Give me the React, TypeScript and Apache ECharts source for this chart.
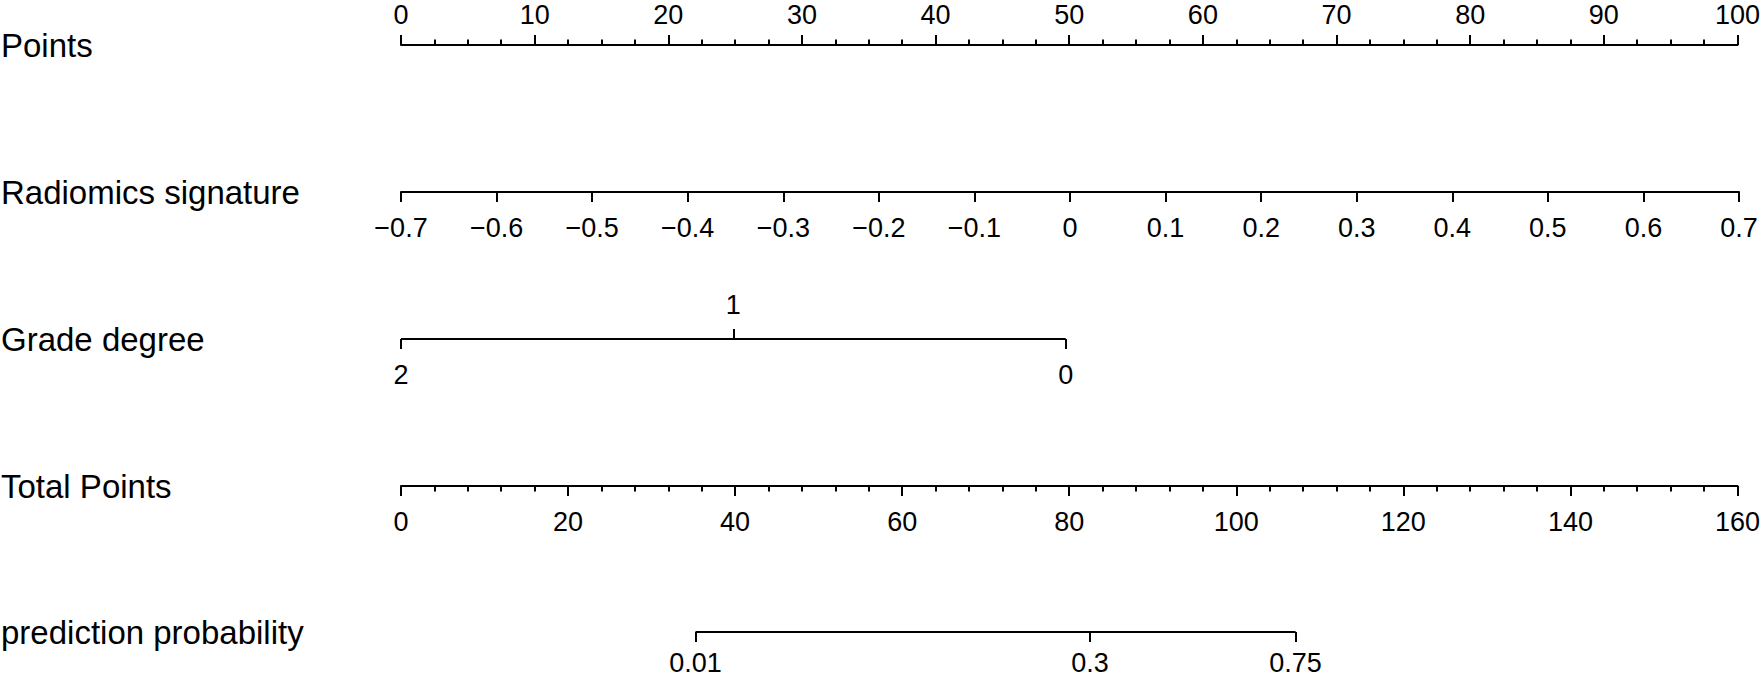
import React, { useEffect, useRef } from 'react';
import * as echarts from 'echarts';

// ---------- data ----------
const rowNames = ['Points', 'Radiomics signature', 'Grade degree', 'Total Points', 'prediction probability'];

const pointsRange = [0, 100];
const pointsStep = 10;

const radiomicsTicks = [-0.7, -0.6, -0.5, -0.4, -0.3, -0.2, -0.1, 0, 0.1, 0.2, 0.3, 0.4, 0.5, 0.6, 0.7];

const gradeLevels = ['2', '1', '0'];
const gradePoints = [0, 24.84, 49.68];

const totalPointsRange = [0, 160];
const totalPointsStep = 20;

const probLabels = ['0.01', '0.3', '0.75'];
const probTotalPoints = [35.22, 82.39, 106.98];

// ---------- layout ----------
const ROW_Y = [45, 192, 339, 486, 632];
const AXIS_LEFT = 401;
const AXIS_WIDTH = 1338;
const FONT = '"Liberation Sans", Arial, Helvetica, sans-serif';
const TICK_FS = 27;
const TICK_LH = 18;
const NAME_FS = 33;
const LW = 2;
const BLACK = '#000';

const lineStyle = { color: BLACK, width: LW };

function baseAxis(gridIndex: number, position: 'top' | 'bottom', margin?: number) {
  return {
    type: 'value',
    gridIndex,
    position,
    axisLine: { show: true, onZero: false, lineStyle },
    axisTick: { show: true, length: 10, inside: false, lineStyle },
    minorTick: { show: false },
    splitLine: { show: false },
    minorSplitLine: { show: false },
    axisLabel: {
      show: true,
      margin: margin ?? (position === 'top' ? 25.5 : 26.5),
      fontSize: TICK_FS,
      lineHeight: TICK_LH,
      fontFamily: FONT,
      color: BLACK,
      showMinLabel: true,
      showMaxLabel: true,
    },
  } as any;
}

const fmtSigned = (v: number) => {
  const a = Math.round(Math.abs(v) * 10) / 10;
  return (v < -1e-9 ? '\u2212' : '') + String(a);
};

export default function App() {
  const ref = useRef<HTMLDivElement>(null);

  useEffect(() => {
    if (!ref.current) return;
    const chart = echarts.init(ref.current, null, { renderer: 'svg' });

    const grids = ROW_Y.map((y) => ({ left: AXIS_LEFT, width: AXIS_WIDTH, top: y, height: 0 }));

    // Points
    const axPoints = baseAxis(0, 'top', 21);
    axPoints.min = pointsRange[0];
    axPoints.max = pointsRange[1];
    axPoints.interval = pointsStep;
    axPoints.minorTick = { show: true, splitNumber: 4, length: 5.5, lineStyle };

    // Radiomics signature
    const axRad = baseAxis(1, 'bottom');
    axRad.min = radiomicsTicks[0];
    axRad.max = radiomicsTicks[radiomicsTicks.length - 1];
    axRad.axisTick.customValues = radiomicsTicks;
    axRad.axisLabel.customValues = radiomicsTicks;
    axRad.axisLabel.formatter = (v: number) => fmtSigned(v);

    // Grade degree (points scale); labels alternate below / above
    const gradeBelow = gradePoints.filter((_, i) => i % 2 === 0);
    const gradeAbove = gradePoints.filter((_, i) => i % 2 === 1);
    const gradeFmt = (v: number) => {
      const i = gradePoints.findIndex((p) => Math.abs(p - v) < 1e-6);
      return i >= 0 ? gradeLevels[i] : '';
    };
    const axGradeB = baseAxis(2, 'bottom');
    axGradeB.min = pointsRange[0];
    axGradeB.max = pointsRange[1];
    axGradeB.axisLine = { show: false };
    axGradeB.axisTick.customValues = gradeBelow;
    axGradeB.axisLabel.customValues = gradeBelow;
    axGradeB.axisLabel.formatter = gradeFmt;
    const axGradeT = baseAxis(2, 'top');
    axGradeT.min = pointsRange[0];
    axGradeT.max = pointsRange[1];
    axGradeT.axisLine = { show: false };
    axGradeT.axisTick.customValues = gradeAbove;
    axGradeT.axisLabel.customValues = gradeAbove;
    axGradeT.axisLabel.formatter = gradeFmt;

    // Total points
    const axTotal = baseAxis(3, 'bottom');
    axTotal.min = totalPointsRange[0];
    axTotal.max = totalPointsRange[1];
    axTotal.interval = totalPointsStep;
    axTotal.minorTick = { show: true, splitNumber: 5, length: 5.5, lineStyle };

    // Prediction probability (total points scale)
    const axProb = baseAxis(4, 'bottom', 22);
    axProb.min = totalPointsRange[0];
    axProb.max = totalPointsRange[1];
    axProb.axisLine = { show: false };
    axProb.axisTick.customValues = probTotalPoints;
    axProb.axisLabel.customValues = probTotalPoints;
    axProb.axisLabel.formatter = (v: number) => {
      const i = probTotalPoints.findIndex((p) => Math.abs(p - v) < 1e-6);
      return i >= 0 ? probLabels[i] : '';
    };

    const yAxes = ROW_Y.map((_, i) => ({ type: 'value', gridIndex: i, min: -1, max: 1, show: false }));

    const segSeries = (xAxisIndex: number, yAxisIndex: number, pts: number[]) => ({
      type: 'line',
      xAxisIndex,
      yAxisIndex,
      silent: true,
      symbol: 'none',
      lineStyle: { color: BLACK, width: LW },
      data: [
        [Math.min(...pts), 0],
        [Math.max(...pts), 0],
      ],
    });

    chart.setOption({
      animation: false,
      backgroundColor: '#fff',
      textStyle: { fontFamily: FONT, color: BLACK },
      grid: grids,
      xAxis: [axPoints, axRad, axGradeB, axGradeT, axTotal, axProb],
      yAxis: yAxes,
      series: [segSeries(2, 2, gradePoints), segSeries(5, 4, probTotalPoints)],
      graphic: rowNames.map((name, i) => ({
        type: 'text',
        x: 1,
        y: ROW_Y[i],
        silent: true,
        style: {
          text: name,
          fontSize: NAME_FS,
          fontFamily: FONT,
          fill: BLACK,
          align: 'left',
          verticalAlign: 'middle',
        },
      })),
    } as any);

    return () => chart.dispose();
  }, []);

  return (
    <div
      ref={ref}
      style={{ position: 'fixed', left: 0, top: 0, width: 1763, height: 678, background: '#fff' }}
    />
  );
}
